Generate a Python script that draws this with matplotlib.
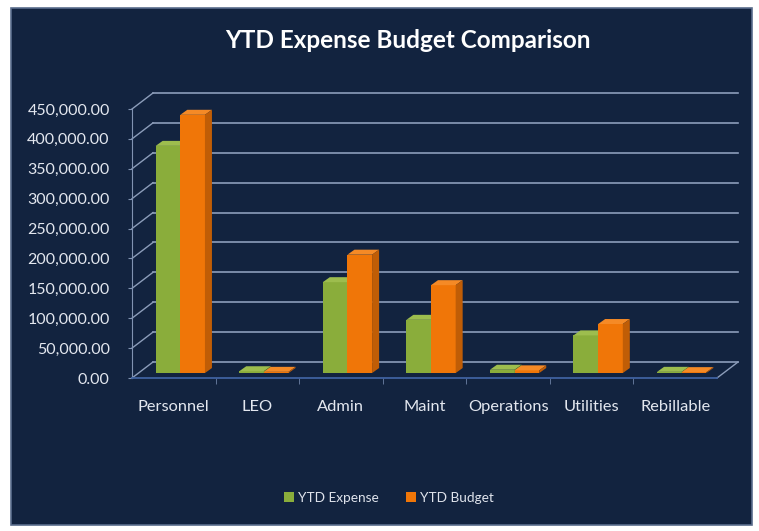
import matplotlib
matplotlib.use("Agg")
import matplotlib.pyplot as plt
from matplotlib.patches import Rectangle, Polygon, Patch
import numpy as np

categories = ["Personnel", "LEO", "Admin", "Maint", "Operations", "Utilities", "Rebillable"]
ytd_expense = [380000, 3000, 152000, 89000, 5500, 63000, 2000]
ytd_budget = [432000, 2000, 198000, 147000, 4500, 82000, 1500]
y_ticks = [0, 50000, 100000, 150000, 200000, 250000, 300000, 350000, 400000, 450000]
series_names = ["YTD Expense", "YTD Budget"]

W, H = 759, 531
fig = plt.figure(figsize=(W / 100, H / 100), dpi=100, facecolor="white")
plt.rcParams['font.family'] = ['Lato', 'DejaVu Sans']

navy = "#12233f"
panel = Rectangle((11 / W, 1 - 525 / H), (752 - 11) / W, (525 - 8) / H,
                  transform=fig.transFigure, facecolor=navy, edgecolor="#5a6d8c",
                  linewidth=1.2, zorder=-10)
fig.patches.append(panel)

# axes = front plane
x0p, x1p, y0p, y1p = 132, 717, 378, 109
ax = fig.add_axes([x0p / W, 1 - y0p / H, (x1p - x0p) / W, (y0p - y1p) / H])
ax.set_zorder(1)
ax.set_facecolor("none")
n = len(categories)
ax.set_xlim(-0.5, n - 0.5)
ax.set_ylim(0, 450000)

px_x = n / (x1p - x0p)          # data units per pixel (x)
px_y = 450000 / (y0p - y1p)     # data units per pixel (y)
DX, DY = 21 * px_x, 16 * px_y   # floor depth

grid_c = "#8c9dba"
for v in y_ticks:
    ax.plot([-0.5 + DX, n - 0.5 + DX], [v + DY, v + DY], color=grid_c, lw=1.2,
            clip_on=False, zorder=1)
    ax.plot([-0.5, -0.5 + DX], [v, v + DY], color=grid_c, lw=1.0,
            clip_on=False, zorder=1)
ax.plot([n - 0.5, n - 0.5 + DX], [0, DY], color=grid_c, lw=1.0, clip_on=False, zorder=1)

for s in ["top", "right"]:
    ax.spines[s].set_visible(False)
ax.spines["left"].set_color("#8193b2")
ax.spines["bottom"].set_color("#3f62a0")
ax.spines["bottom"].set_linewidth(1.3)

ax.set_yticks(y_ticks)
ax.set_yticklabels([f"{v:,.2f}" for v in y_ticks])
ax.tick_params(axis="y", colors="#e3e7ef", labelsize=11.5, length=3, pad=13,
               color="#8193b2")
ax.set_xticks(np.arange(n))
ax.set_xticklabels(categories)
ax.set_xticks(np.arange(n - 1) + 0.5, minor=True)
ax.tick_params(axis="x", which="major", length=0, pad=16, colors="#e3e7ef", labelsize=11.8)
ax.tick_params(axis="x", which="minor", length=4, color="#6e82a6")

# bars with faux depth
f0 = 0.31
bdx, bdy = 7 * px_x, 5 * px_y
w = 0.295
base = f0 * DY
styles = [
    dict(front="#8aad3b", top="#9dbd4e", side="#6c8a2a"),
    dict(front="#f07608", top="#f58a26", side="#c05d06"),
]
for i in range(n):
    for k, vals in enumerate([ytd_expense, ytd_budget]):
        v = vals[i]
        st = styles[k]
        xl = i - w + k * w + f0 * DX
        xr = xl + w
        z = 3 + i * 2 + k
        ax.bar(xl, v, width=w, bottom=base, align="edge", color=st["front"],
               edgecolor="none", zorder=z)
        top = base + v
        ax.add_patch(Polygon([(xl, top), (xr, top), (xr + bdx, top + bdy), (xl + bdx, top + bdy)],
                             closed=True, facecolor=st["top"], edgecolor="none", zorder=z))
        ax.add_patch(Polygon([(xr, base), (xr + bdx, base + bdy), (xr + bdx, top + bdy), (xr, top)],
                             closed=True, facecolor=st["side"], edgecolor="none", zorder=z))

fig.text(408 / W, 1 - 48 / H, "YTD Expense Budget Comparison", ha="center", va="baseline",
         color="white", fontsize=17.5, fontweight="bold")

handles = [Patch(facecolor=styles[0]["front"]), Patch(facecolor=styles[1]["front"])]
leg = fig.legend(handles, series_names, loc="center", bbox_to_anchor=(389 / W, 1 - 498 / H),
                 ncol=2, frameon=False, fontsize=9.8, handlelength=0.75, handleheight=0.75,
                 handletextpad=0.3, columnspacing=2.0)
for t in leg.get_texts():
    t.set_color("#dfe3ec")

fig.savefig("out.png", dpi=100, facecolor="white")
